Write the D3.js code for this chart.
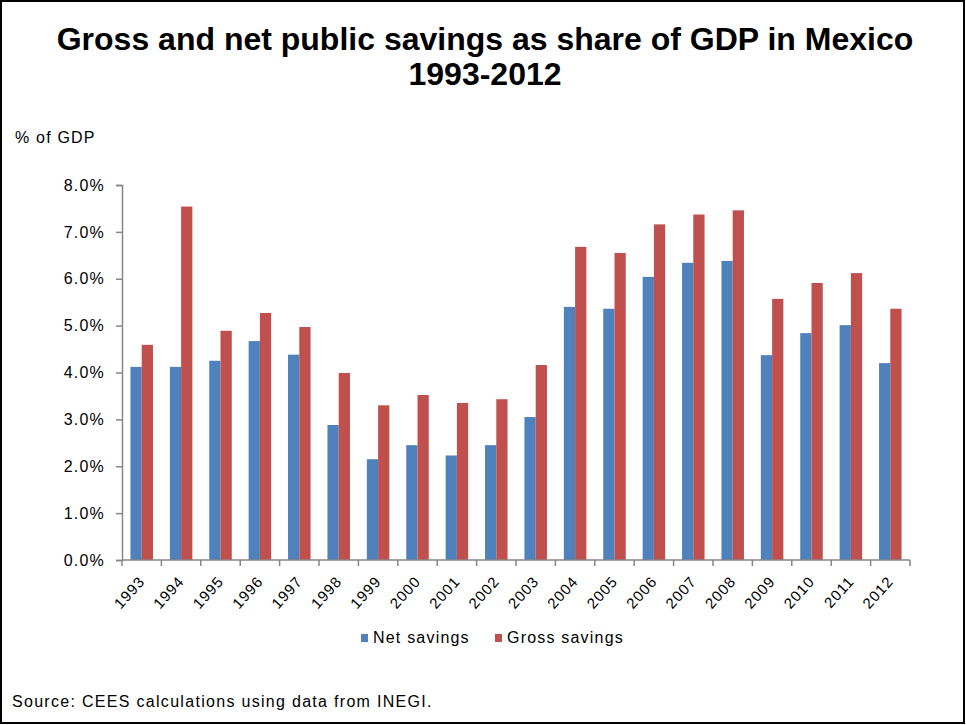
<!DOCTYPE html>
<html>
<head>
<meta charset="utf-8">
<script src="https://cdn.jsdelivr.net/npm/d3@7/dist/d3.min.js"></script>
<style>
  html, body { margin: 0; padding: 0; background: #fff; }
  svg { display: block; font-family: "Liberation Sans", Arial, sans-serif; }
</style>
</head>
<body>
<svg id="chart" width="966" height="725"></svg>
<script>
// values (% of GDP)
const years = ['1993','1994','1995','1996','1997','1998','1999','2000','2001','2002',
               '2003','2004','2005','2006','2007','2008','2009','2010','2011','2012'];
const netSavings   = [4.12, 4.12, 4.25, 4.67, 4.38, 2.88, 2.15, 2.45, 2.23, 2.45,
                      3.05, 5.40, 5.36, 6.04, 6.34, 6.38, 4.37, 4.84, 5.01, 4.20];
const grossSavings = [4.59, 7.54, 4.89, 5.27, 4.97, 3.99, 3.30, 3.52, 3.35, 3.43,
                      4.16, 6.68, 6.55, 7.16, 7.37, 7.46, 5.57, 5.91, 6.12, 5.36];
const seriesNames  = ['Net savings', 'Gross savings'];
const seriesColors = ['#4F81BD', '#C0504D'];
const yTicks = [0, 1, 2, 3, 4, 5, 6, 7, 8];

const svg = d3.select('#chart');
const margin = {left: 122, right: 56, top: 185, bottom: 165};
const W = 966, H = 725;

const x = d3.scaleBand().domain(years).range([margin.left, W - margin.right]);
const x1 = d3.scaleBand().domain(seriesNames).range([0, x.bandwidth()])
  .paddingInner(0).paddingOuter(0.75);
const y = d3.scaleLinear().domain([0, 8]).range([H - margin.bottom, margin.top]);

// outer frame
svg.append('rect')
  .attr('x', 1).attr('y', 1).attr('width', 963).attr('height', 722)
  .attr('fill', 'none').attr('stroke', '#000').attr('stroke-width', 2);

// title
const title = svg.append('text')
  .attr('text-anchor', 'middle')
  .attr('font-weight', 'bold')
  .attr('font-size', 32)
  .attr('fill', '#000');
title.append('tspan').attr('x', 485).attr('y', 50).text('Gross and net public savings as share of GDP in Mexico');
title.append('tspan').attr('x', 485).attr('y', 85).text('1993-2012');

svg.append('text')
  .attr('x', 15).attr('y', 143)
  .attr('font-size', 16).attr('letter-spacing', 1.2)
  .text('% of GDP');

// bars
const rows = years.map((yr, i) => ({year: yr, values: [netSavings[i], grossSavings[i]]}));
svg.append('g').selectAll('g')
  .data(rows)
  .join('g')
    .attr('transform', d => `translate(${x(d.year)},0)`)
  .selectAll('rect')
  .data(d => d.values.map((v, k) => ({name: seriesNames[k], value: v, color: seriesColors[k]})))
  .join('rect')
    .attr('x', d => x1(d.name))
    .attr('width', x1.bandwidth())
    .attr('y', d => y(d.value))
    .attr('height', d => y(0) - y(d.value))
    .attr('fill', d => d.color);

// y axis
const yAxis = svg.append('g')
  .attr('transform', `translate(${margin.left},0)`)
  .call(d3.axisLeft(y).tickValues(yTicks).tickFormat(d => d.toFixed(1) + '%')
    .tickSize(6).tickSizeOuter(6).tickPadding(11));
yAxis.select('.domain').attr('stroke', '#868686').attr('stroke-width', 1.5);
yAxis.selectAll('.tick line').attr('stroke', '#868686').attr('stroke-width', 1.5);
yAxis.selectAll('.tick text')
  .attr('font-size', 16).attr('letter-spacing', 1.2).attr('fill', '#000')
  .attr('font-family', '"Liberation Sans", Arial, sans-serif');

// x axis: ticks at category boundaries, labels rotated
const xAxisG = svg.append('g').attr('transform', `translate(0,${y(0)})`);
xAxisG.append('line')
  .attr('x1', margin.left).attr('x2', W - margin.right)
  .attr('stroke', '#868686').attr('stroke-width', 1.5);
const boundaries = years.map(d => x(d)).concat([x(years[years.length - 1]) + x.bandwidth()]);
xAxisG.selectAll('line.tk')
  .data(boundaries)
  .join('line')
    .attr('class', 'tk')
    .attr('x1', d => d).attr('x2', d => d)
    .attr('y1', 0).attr('y2', 6)
    .attr('stroke', '#868686').attr('stroke-width', 1.5);
xAxisG.selectAll('text')
  .data(years)
  .join('text')
    .attr('text-anchor', 'end')
    .attr('font-size', 15).attr('letter-spacing', 1)
    .attr('fill', '#000')
    .attr('transform', d => `translate(${x(d) + x.bandwidth() / 2 + 4},${22}) rotate(-48)`)
    .text(d => d);

// legend
const legend = svg.append('g').attr('transform', 'translate(361,643)');
const legendX = [0, 134];
seriesNames.forEach((name, k) => {
  legend.append('rect')
    .attr('x', legendX[k]).attr('y', -9)
    .attr('width', 7).attr('height', 8)
    .attr('fill', seriesColors[k]);
  legend.append('text')
    .attr('x', legendX[k] + 12).attr('y', 0)
    .attr('font-size', 16).attr('letter-spacing', 1.2)
    .text(name);
});

// source note
svg.append('text')
  .attr('x', 12).attr('y', 707)
  .attr('font-size', 16).attr('letter-spacing', 1.3)
  .text('Source: CEES calculations using data from INEGI.');
</script>
</body>
</html>
